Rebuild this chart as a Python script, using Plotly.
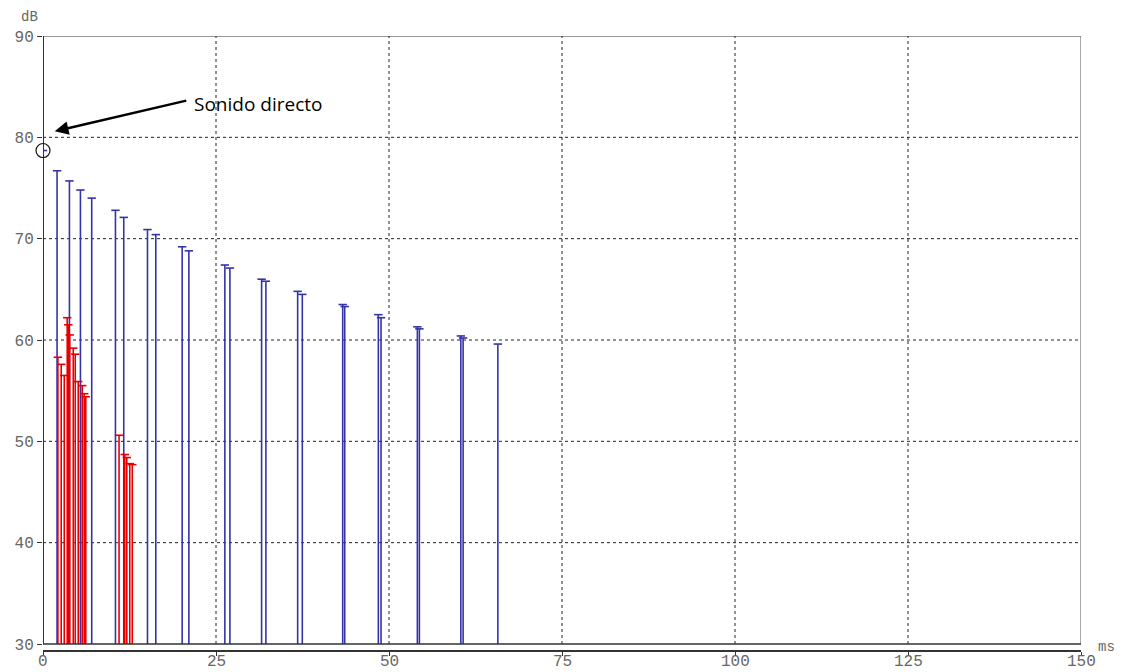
import plotly.graph_objects as go

# Echogram: reflection arrival time (ms) vs level (dB)
blue_t = [0, 2.03, 3.82, 5.41, 7.04, 10.47, 11.67, 15.10, 16.30, 20.11, 21.08,
          26.28, 27.01, 31.59, 32.21, 36.80, 37.47, 43.31, 43.60, 48.46, 48.85,
          54.10, 54.39, 60.38, 60.71, 65.73]
blue_db = [78.7, 76.7, 75.7, 74.8, 74.0, 72.8, 72.1, 70.9, 70.4, 69.2, 68.8,
           67.4, 67.1, 66.0, 65.8, 64.8, 64.5, 63.5, 63.3, 62.5, 62.2,
           61.3, 61.1, 60.4, 60.2, 59.6]

red_t = [2.15, 2.63, 3.07, 3.50, 3.65, 3.86, 4.37, 4.66, 5.09, 5.67, 5.96, 6.18,
         10.99, 11.82, 12.11, 12.54, 12.90]
red_db = [58.3, 57.6, 56.5, 62.2, 61.5, 60.5, 59.2, 58.6, 55.9, 55.5, 54.7, 54.4,
          50.6, 48.7, 48.4, 47.8, 47.7]

x_ticks = [0, 25, 50, 75, 100, 125, 150]
y_ticks = [30, 40, 50, 60, 70, 80, 90]

X_MIN, X_MAX = 0, 150
Y_FLOOR, Y_TOP = 30, 90

BLUE = "#3434a8"
RED = "#e80000"
LABEL_COLOR = "#666666"
MONO = "Liberation Mono, Courier New, monospace"

W, H = 1125, 672
L, R, T, B = 43, 44, 36, 22
pw, ph = W - L - R, H - T - B
FLOOR_PX = 644  # pixel row of the 30 dB floor line

px_per_db = (FLOOR_PX - T) / (Y_TOP - Y_FLOOR)
y_bottom = Y_FLOOR - (T + ph - FLOOR_PX) / px_per_db


def to_paper(xv, yv):
    """Data coordinates -> paper fractions (for unclipped decorations)."""
    fx = (xv - X_MIN) / (X_MAX - X_MIN)
    fy = (yv - y_bottom) / (Y_TOP - y_bottom)
    return fx, fy


def px_paper(px, py):
    """Page pixel position -> paper fractions."""
    return (px - L) / pw, 1 - (py - T) / ph


def stems(ts, vals, base):
    xs, ys = [], []
    for t, v in zip(ts, vals):
        xs += [t, t, None]
        ys += [base, v, None]
    return xs, ys


fig = go.Figure()

for ts, vals, col in [(blue_t, blue_db, BLUE), (red_t, red_db, RED)]:
    sx, sy = stems(ts, vals, Y_FLOOR)
    fig.add_trace(go.Scatter(x=sx, y=sy, mode="lines",
                             line=dict(color=col, width=1.6),
                             hoverinfo="skip", showlegend=False))
    fig.add_trace(go.Scatter(x=ts, y=vals, mode="markers",
                             marker=dict(symbol="line-ew", size=6,
                                         line=dict(color=col, width=1.6)),
                             showlegend=False))

shapes = []
# dotted grid
for xv in x_ticks[1:-1]:
    shapes.append(dict(type="line", xref="x", yref="y", x0=xv, x1=xv,
                       y0=Y_FLOOR, y1=Y_TOP,
                       line=dict(color="#222222", width=1, dash="dot"),
                       layer="below"))
for yv in y_ticks[1:-1]:
    shapes.append(dict(type="line", xref="x", yref="y", x0=X_MIN, x1=X_MAX,
                       y0=yv, y1=yv,
                       line=dict(color="#222222", width=1, dash="dot"),
                       layer="below"))
# frame: top, right, bottom, left
shapes += [
    dict(type="line", xref="x", yref="y", x0=X_MIN, x1=X_MAX, y0=Y_TOP, y1=Y_TOP,
         line=dict(color="#333333", width=1)),
    dict(type="line", xref="x", yref="y", x0=X_MAX, x1=X_MAX, y0=Y_FLOOR, y1=Y_TOP,
         line=dict(color="#555555", width=1)),
    dict(type="line", xref="x", yref="y", x0=X_MIN, x1=X_MAX, y0=Y_FLOOR, y1=Y_FLOOR,
         line=dict(color="#333333", width=1.5)),
    dict(type="line", xref="x", yref="y", x0=X_MIN, x1=X_MIN, y0=Y_FLOOR, y1=Y_TOP,
         line=dict(color="#333333", width=2)),
]
# marker circle around the direct sound (paper refs so it is not clipped)
cx, cy = to_paper(blue_t[0], blue_db[0])
shapes.append(dict(type="circle", xref="paper", yref="paper",
                   xsizemode="pixel", ysizemode="pixel",
                   xanchor=cx, yanchor=cy,
                   x0=-7, x1=7, y0=-7, y1=7,
                   line=dict(color="#111111", width=1.2)))

tx, ty = px_paper(192, 104)
dbx, dby = px_paper(19, 17)
msx, msy = px_paper(1096, 647)
annotations = [
    dict(x=1.7, y=80.6, xref="x", yref="y", text="", showarrow=True,
         ax=133, ay=-31, axref="pixel", ayref="pixel",
         arrowhead=2, arrowsize=1.1, arrowwidth=2.5, arrowcolor="#000000"),
    dict(x=tx, y=ty, xref="paper", yref="paper", text="Sonido directo",
         showarrow=False, xanchor="left", yanchor="middle",
         font=dict(family="Open Sans, sans-serif", size=19, color="#000000")),
    dict(x=dbx, y=dby, xref="paper", yref="paper", text="dB", showarrow=False,
         xanchor="left", yanchor="middle",
         font=dict(family=MONO, size=14, color=LABEL_COLOR)),
    dict(x=msx, y=msy, xref="paper", yref="paper", text="ms", showarrow=False,
         xanchor="left", yanchor="middle",
         font=dict(family=MONO, size=14, color=LABEL_COLOR)),
]

# x tick labels sit tight under the lower axis line
_, lab_y = px_paper(0, 662)
for xv in x_ticks:
    annotations.append(dict(x=xv, y=lab_y, xref="x", yref="paper",
                            text=str(xv), showarrow=False,
                            xanchor="center", yanchor="middle",
                            font=dict(family=MONO, size=16, color=LABEL_COLOR)))

fig.update_layout(
    width=W, height=H,
    margin=dict(l=L, r=R, t=T, b=B, autoexpand=False),
    paper_bgcolor="white", plot_bgcolor="white",
    shapes=shapes, annotations=annotations,
    xaxis=dict(range=[X_MIN, X_MAX], tickvals=x_ticks,
               showticklabels=False, automargin=False,
               showgrid=False, zeroline=False,
               showline=True, linecolor="#333333", linewidth=1.5,
               ticks="outside", ticklen=4, tickcolor="#333333"),
    yaxis=dict(range=[y_bottom, Y_TOP], tickvals=y_ticks,
               ticktext=[str(v) for v in y_ticks], automargin=False,
               showgrid=False, zeroline=False, showline=False,
               ticks="outside", ticklen=5, tickcolor="#333333",
               tickfont=dict(family=MONO, size=16, color=LABEL_COLOR)),
)

fig.write_html("out.html")
